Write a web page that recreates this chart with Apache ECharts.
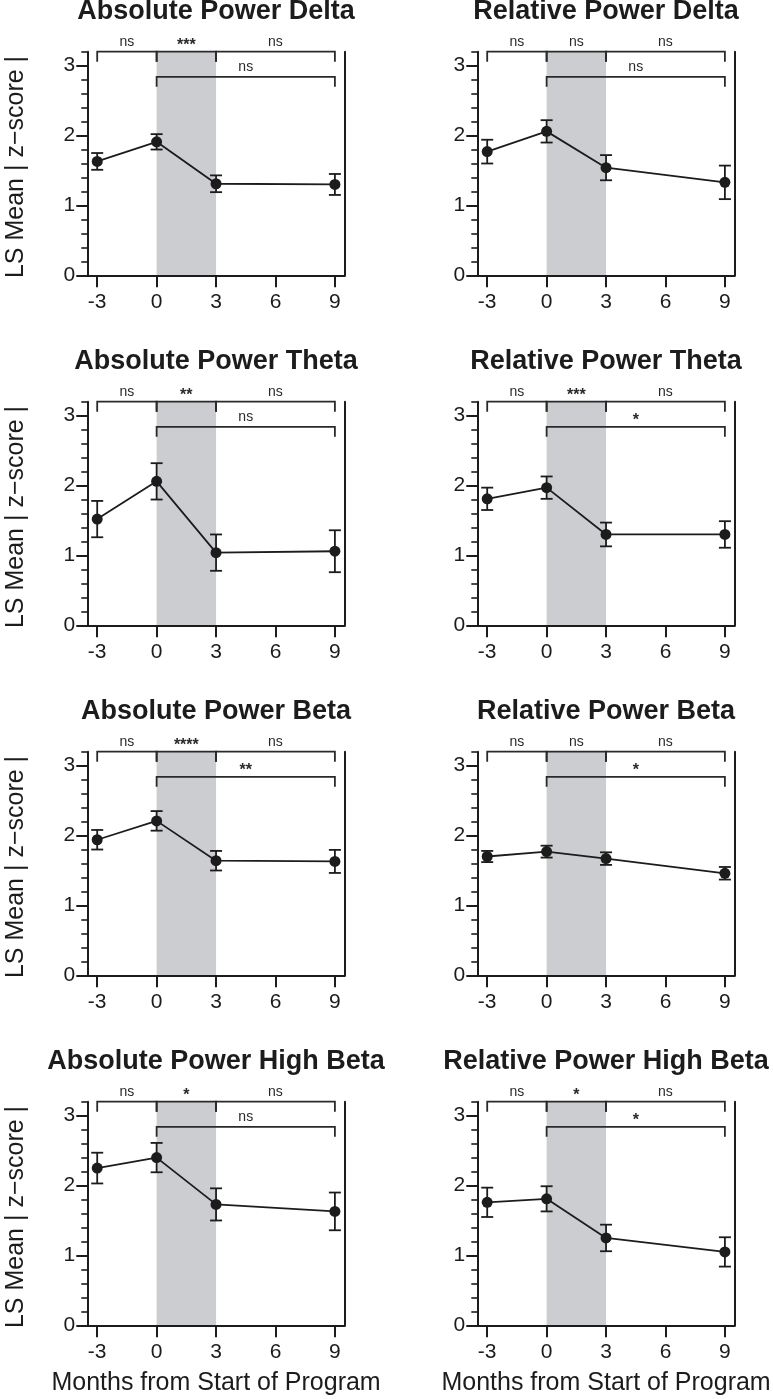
<!DOCTYPE html>
<html>
<head>
<meta charset="utf-8">
<script src="https://cdn.jsdelivr.net/npm/echarts@6/dist/echarts.min.js"></script>
<style>
html,body{margin:0;padding:0;background:#fff;}
#chart{width:773px;height:1399px;}
</style>
</head>
<body>
<div id="chart"></div>
<script>
// ---------- data ----------
const timepoints = [-3, 0, 3, 9];
const xTickValues = [-3, 0, 3, 6, 9];
const yTickValues = [0, 1, 2, 3];
const yMinorTickValues = [0.2, 0.4, 0.6, 0.8, 1.2, 1.4, 1.6, 1.8, 2.2, 2.4, 2.6, 2.8, 3.2];
const interventionPeriod = [0, 3];

const panelTitles = [
  'Absolute Power Delta', 'Relative Power Delta',
  'Absolute Power Theta', 'Relative Power Theta',
  'Absolute Power Beta', 'Relative Power Beta',
  'Absolute Power High Beta', 'Relative Power High Beta'
];

const absDeltaMean = [1.63, 1.91, 1.31, 1.30];
const absDeltaErr  = [0.12, 0.11, 0.12, 0.15];
const relDeltaMean = [1.77, 2.06, 1.54, 1.33];
const relDeltaErr  = [0.17, 0.16, 0.18, 0.24];
const absThetaMean = [1.52, 2.06, 1.04, 1.06];
const absThetaErr  = [0.26, 0.26, 0.26, 0.30];
const relThetaMean = [1.81, 1.97, 1.30, 1.30];
const relThetaErr  = [0.16, 0.16, 0.17, 0.19];
const absBetaMean  = [1.94, 2.21, 1.64, 1.63];
const absBetaErr   = [0.14, 0.14, 0.14, 0.165];
const relBetaMean  = [1.70, 1.77, 1.67, 1.46];
const relBetaErr   = [0.08, 0.085, 0.09, 0.09];
const absHighBetaMean = [2.25, 2.40, 1.73, 1.63];
const absHighBetaErr  = [0.22, 0.21, 0.23, 0.27];
const relHighBetaMean = [1.76, 1.81, 1.25, 1.05];
const relHighBetaErr  = [0.21, 0.18, 0.19, 0.21];

// comparisons: [-3 vs 0], [0 vs 3], [3 vs 9], [0 vs 9]
const comparisons = [[-3, 0], [0, 3], [3, 9], [0, 9]];
const bracketLevels = [3.2, 3.2, 3.2, 2.84];
const absDeltaSig = ['ns', '***', 'ns', 'ns'];
const relDeltaSig = ['ns', 'ns', 'ns', 'ns'];
const absThetaSig = ['ns', '**', 'ns', 'ns'];
const relThetaSig = ['ns', '***', 'ns', '*'];
const absBetaSig  = ['ns', '****', 'ns', '**'];
const relBetaSig  = ['ns', 'ns', 'ns', '*'];
const absHighBetaSig = ['ns', '*', 'ns', 'ns'];
const relHighBetaSig = ['ns', '*', 'ns', '*'];

const panelMeans = [absDeltaMean, relDeltaMean, absThetaMean, relThetaMean, absBetaMean, relBetaMean, absHighBetaMean, relHighBetaMean];
const panelErrs  = [absDeltaErr, relDeltaErr, absThetaErr, relThetaErr, absBetaErr, relBetaErr, absHighBetaErr, relHighBetaErr];
const panelSigs  = [absDeltaSig, relDeltaSig, absThetaSig, relThetaSig, absBetaSig, relBetaSig, absHighBetaSig, relHighBetaSig];

// ---------- layout ----------
const FONT = '"Liberation Sans", Arial, Helvetica, sans-serif';
const INK = '#1c1c1c';
const colLeft = [87.3, 477.3];
const gridW = 257.5;
const gridH = 223.6;
const rowTop0 = 51.7;
const rowStep = 350;

const grids = [], xAxes = [], yMain = [], yMinor = [], yRight = [], series = [], graphics = [];

for (let p = 0; p < 8; p++) {
  const r = Math.floor(p / 2), c = p % 2;
  const top = rowTop0 + rowStep * r;
  grids.push({ left: colLeft[c], top: top, width: gridW, height: gridH, containLabel: false, outerBoundsMode: 'none' });

  xAxes.push({
    type: 'value', gridIndex: p, min: -3.5, max: 9.5, z: 10,
    axisLine: { show: true, onZero: false, lineStyle: { color: INK, width: 2 } },
    axisTick: { show: true, customValues: xTickValues, length: 12, lineStyle: { color: INK, width: 2 } },
    axisLabel: { show: true, customValues: xTickValues, fontSize: 21, color: INK, margin: 16, fontFamily: FONT },
    splitLine: { show: false }
  });
  yMain.push({
    type: 'value', gridIndex: p, min: 0, max: 3.2, position: 'left', z: 10,
    axisLine: { show: true, onZero: false, lineStyle: { color: INK, width: 2 } },
    axisTick: { show: true, customValues: yTickValues, length: 11, lineStyle: { color: INK, width: 2 } },
    axisLabel: { show: true, customValues: yTickValues, fontSize: 21, color: INK, margin: 12, fontFamily: FONT },
    splitLine: { show: false }
  });
  yMinor.push({
    type: 'value', gridIndex: p, min: 0, max: 3.2, position: 'left', z: 10,
    axisLine: { show: false, onZero: false },
    axisTick: { show: true, customValues: yMinorTickValues, length: 6, lineStyle: { color: INK, width: 1.6 } },
    axisLabel: { show: false },
    splitLine: { show: false }
  });
  yRight.push({
    type: 'value', gridIndex: p, min: 0, max: 3.2, position: 'right', z: 10,
    axisLine: { show: true, onZero: false, lineStyle: { color: INK, width: 2 } },
    axisTick: { show: false }, axisLabel: { show: false }, splitLine: { show: false }
  });

  const means = panelMeans[p], errs = panelErrs[p], sigs = panelSigs[p];

  // mean line + markers + shaded intervention period
  series.push({
    type: 'line', xAxisIndex: p, yAxisIndex: p, z: 3,
    data: timepoints.map((t, i) => [t, means[i]]),
    symbol: 'circle', symbolSize: 11, showSymbol: true,
    itemStyle: { color: INK }, lineStyle: { color: INK, width: 1.8 },
    silent: true,
    markArea: {
      silent: true,
      itemStyle: { color: '#cccdd0', opacity: 1 },
      data: [[{ xAxis: interventionPeriod[0] }, { xAxis: interventionPeriod[1] }]]
    }
  });

  // error bars
  series.push({
    type: 'custom', xAxisIndex: p, yAxisIndex: p, z: 4, silent: true,
    data: timepoints.map((t, i) => [t, means[i], errs[i]]),
    renderItem: function (params, api) {
      const x = api.value(0), m = api.value(1), e = api.value(2);
      const hi = api.coord([x, m + e]), lo = api.coord([x, m - e]);
      const hw = 6;
      const st = { stroke: INK, lineWidth: 1.8 };
      return {
        type: 'group',
        children: [
          { type: 'line', shape: { x1: hi[0], y1: hi[1], x2: lo[0], y2: lo[1] }, style: st },
          { type: 'line', shape: { x1: hi[0] - hw, y1: hi[1], x2: hi[0] + hw, y2: hi[1] }, style: st },
          { type: 'line', shape: { x1: lo[0] - hw, y1: lo[1], x2: lo[0] + hw, y2: lo[1] }, style: st }
        ]
      };
    }
  });

  // significance brackets
  series.push({
    type: 'custom', xAxisIndex: p, yAxisIndex: p, z: 5, silent: true, clip: false,
    data: comparisons.map((cmp, i) => [(cmp[0] + cmp[1]) / 2, bracketLevels[i], cmp[0], cmp[1]]),
    renderItem: function (params, api) {
      const lvl = api.value(1), x1 = api.value(2), x2 = api.value(3);
      const a = api.coord([x1, lvl]), b = api.coord([x2, lvl]);
      const tick = 10;
      const label = sigs[params.dataIndex];
      const isStar = label.indexOf('*') >= 0;
      return {
        type: 'group',
        children: [
          { type: 'polyline', shape: { points: [[a[0], a[1] + tick], [a[0], a[1]], [b[0], b[1]], [b[0], b[1] + tick]] },
            style: { stroke: '#2a2a2a', lineWidth: 1.8, fill: null } },
          { type: 'text', x: (a[0] + b[0]) / 2, y: a[1] - 10 + (isStar ? 4 : 0),
            style: { text: label, fill: '#2a2a2a', align: 'center', verticalAlign: 'middle',
                     font: (isStar ? 'bold 16px ' : '14px ') + FONT } }
        ]
      };
    }
  });

  // panel title
  graphics.push({
    type: 'text', x: colLeft[c] + gridW / 2, y: 12 + rowStep * r,
    style: { text: panelTitles[p], font: 'bold 27px ' + FONT, fill: INK, align: 'center', verticalAlign: 'middle' }
  });
}

for (let r = 0; r < 4; r++) {
  graphics.push({
    type: 'text', x: 16.5, y: 167 + rowStep * r, rotation: Math.PI / 2,
    style: { text: 'LS Mean | z\u2212score |', font: '25px ' + FONT, fill: INK, align: 'center', verticalAlign: 'middle' }
  });
}
for (let c = 0; c < 2; c++) {
  graphics.push({
    type: 'text', x: colLeft[c] + gridW / 2, y: 1383,
    style: { text: 'Months from Start of Program', font: '25px ' + FONT, fill: INK, align: 'center', verticalAlign: 'middle' }
  });
}

const chart = echarts.init(document.getElementById('chart'), null, { renderer: 'canvas' });
chart.setOption({
  animation: false,
  backgroundColor: '#ffffff',
  grid: grids,
  xAxis: xAxes,
  yAxis: yMain.concat(yMinor).concat(yRight),
  series: series,
  graphic: { elements: graphics }
});
</script>
</body>
</html>
